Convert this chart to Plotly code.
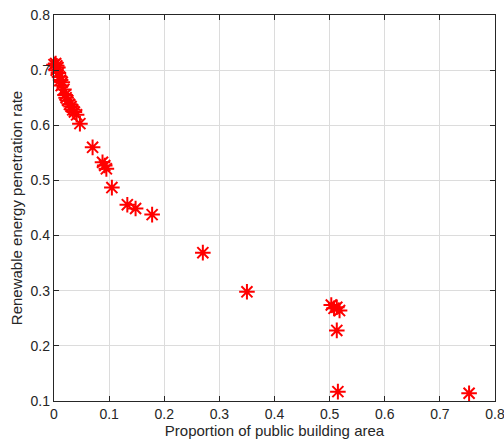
import plotly.graph_objects as go

# Proportion of public building area vs. renewable energy penetration rate
area_share = [0.000, 0.003, 0.005, 0.007, 0.004, 0.008, 0.010, 0.012, 0.015, 0.013,
              0.018, 0.020, 0.022, 0.025, 0.028, 0.031, 0.034, 0.037, 0.041, 0.047,
              0.070, 0.088, 0.092, 0.095, 0.105, 0.133, 0.148, 0.178, 0.270, 0.350,
              0.503, 0.508, 0.513, 0.518, 0.513, 0.515, 0.753]
penetration = [0.710, 0.712, 0.708, 0.705, 0.700, 0.695, 0.688, 0.682, 0.678, 0.672,
               0.665, 0.655, 0.650, 0.645, 0.638, 0.634, 0.628, 0.624, 0.619, 0.603,
               0.560, 0.533, 0.527, 0.521, 0.487, 0.456, 0.449, 0.438, 0.369, 0.298,
               0.274, 0.268, 0.270, 0.264, 0.228, 0.117, 0.114]

x_ticks = [0, 0.1, 0.2, 0.3, 0.4, 0.5, 0.6, 0.7, 0.8]
y_ticks = [0.1, 0.2, 0.3, 0.4, 0.5, 0.6, 0.7, 0.8]

FONT = "Liberation Sans, Arial, Helvetica"

fig = go.Figure(go.Scatter(
    x=area_share, y=penetration, mode="markers",
    marker=dict(symbol="asterisk-open", size=13, color="#ff0000",
                line=dict(color="#ff0000", width=2)),
    cliponaxis=False,
))

axis_style = dict(
    showline=True, linecolor="#262626", linewidth=1.3, mirror="allticks",
    ticks="inside", ticklen=5, tickcolor="#262626",
    showgrid=True, gridcolor="#dcdcdc", gridwidth=1, zeroline=False,
    tickfont=dict(family=FONT, size=14, color="#262626"),
    automargin=False, ticklabeloverflow="allow",
)

fig.update_xaxes(range=[0, 0.8], tickvals=x_ticks,
                 ticktext=[f"{v:g}" for v in x_ticks],
                 title=dict(text="Proportion of public building area", standoff=4,
                            font=dict(family=FONT, size=15, color="#262626")),
                 **axis_style)
fig.update_yaxes(range=[0.1, 0.8], tickvals=y_ticks,
                 ticktext=[f"{v:g}" for v in y_ticks],
                 title=dict(text="Renewable energy penetration rate", standoff=4,
                            font=dict(family=FONT, size=15, color="#262626")),
                 **axis_style)

fig.update_layout(
    width=504, height=441,
    margin=dict(l=54, r=9, t=15, b=40),
    paper_bgcolor="white", plot_bgcolor="white",
    showlegend=False,
)

fig.write_html("out.html")
